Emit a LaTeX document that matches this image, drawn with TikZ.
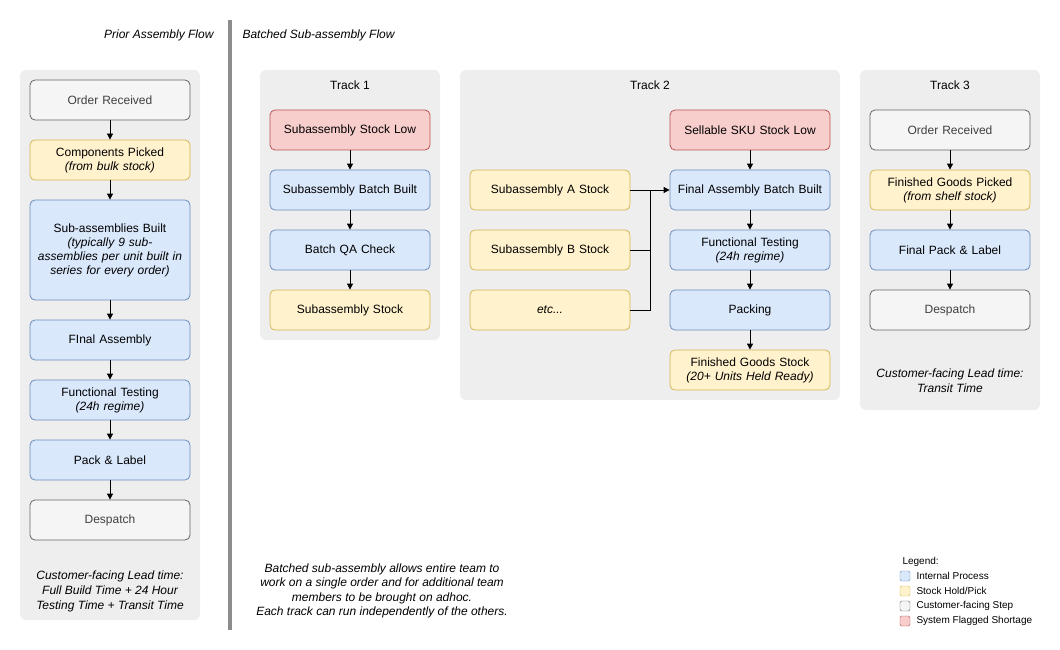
\documentclass[tikz,border=0pt]{standalone}
\usepackage{fontspec}
\setmainfont{Liberation Sans}
\usetikzlibrary{arrows.meta}
\definecolor{bF}{HTML}{DAE8FC}\definecolor{bS}{HTML}{6C8EBF}
\definecolor{yF}{HTML}{FFF2CC}\definecolor{yS}{HTML}{D6B656}
\definecolor{rF}{HTML}{F8CECC}\definecolor{rS}{HTML}{B85450}
\definecolor{gF}{HTML}{F5F5F5}\definecolor{gS}{HTML}{666666}
\definecolor{pan}{HTML}{EEEEEE}
\begin{document}
\begin{tikzpicture}[x=1pt,y=-1pt,
 every node/.style={font=\fontsize{12}{14}\selectfont},
 box/.style={draw,line width=0.8pt,rounded corners=5pt,minimum width=160pt,minimum height=40pt,align=center,text width=155pt,inner sep=0pt},
 blue/.style={box,fill=bF,draw=bS},
 yel/.style={box,fill=yF,draw=yS},
 red/.style={box,fill=rF,draw=rS},
 gry/.style={box,fill=gF,draw=gS,text=black!75},
 panel/.style={fill=pan,rounded corners=6pt,draw=none},
 arr/.style={-{Triangle[length=6pt,width=6pt]},line width=0.8pt},
 lg/.style={draw,rounded corners=1.5pt,minimum size=10pt,inner sep=0pt},
 lt/.style={anchor=west,font=\fontsize{10}{12}\selectfont}]
\useasboundingbox (0,0) rectangle (1060,650);
% panels
\fill[panel] (20,70) rectangle (200,620);
\fill[panel] (260,70) rectangle (440,340);
\fill[panel] (460,70) rectangle (840,400);
\fill[panel] (860,70) rectangle (1040,410);
\draw[line width=4pt,gray!90] (230,20) -- (230,630);
\node[anchor=east,font=\fontsize{12}{14}\selectfont\itshape] (t0) at (217,35) {Prior Assembly Flow};
\node[anchor=west,font=\fontsize{12}{14}\selectfont\itshape] (t1) at (239,35) {Batched Sub-assembly Flow};
% left
\node[gry] (l1) at (110,100) {Order Received};
\node[yel] (l2) at (110,160) {Components Picked\\\textit{(from bulk stock)}};
\node[blue,minimum height=100pt] (l3) at (110,250) {Sub-assemblies Built\\\textit{(typically 9 sub-}\\\textit{assemblies per unit built in}\\\textit{series for every order)}};
\node[blue] (l4) at (110,340) {FInal Assembly};
\node[blue] (l5) at (110,400) {Functional Testing\\\textit{(24h regime)}};
\node[blue] (l6) at (110,460) {Pack \& Label};
\node[gry] (l7) at (110,520) {Despatch};
\foreach \a/\b in {l1/l2,l2/l3,l3/l4,l4/l5,l5/l6,l6/l7} \draw[arr] (\a) -- (\b);
\node[align=center,font=\fontsize{12}{15}\selectfont\itshape] (lt) at (110,591) {Customer-facing Lead time:\\Full Build Time + 24 Hour\\Testing Time + Transit Time};
% track1
\node (h1) at (350,85) {Track 1};
\node[red] (a1) at (350,130) {Subassembly Stock Low};
\node[blue] (a2) at (350,190) {Subassembly Batch Built};
\node[blue] (a3) at (350,250) {Batch QA Check};
\node[yel] (a4) at (350,310) {Subassembly Stock};
\foreach \a/\b in {a1/a2,a2/a3,a3/a4} \draw[arr] (\a) -- (\b);
% track2
\node (h2) at (650,85) {Track 2};
\node[yel] (s1) at (550,190) {Subassembly A Stock};
\node[yel] (s2) at (550,250) {Subassembly B Stock};
\node[yel,font=\fontsize{12}{14}\selectfont\itshape] (s3) at (550,310) {etc...};
\node[red] (b1) at (750,130) {Sellable SKU Stock Low};
\node[blue] (b2) at (750,190) {Final Assembly Batch Built};
\node[blue] (b3) at (750,250) {Functional Testing\\\textit{(24h regime)}};
\node[blue] (b4) at (750,310) {Packing};
\node[yel] (b5) at (750,370) {Finished Goods Stock\\\textit{(20+ Units Held Ready)}};
\foreach \a/\b in {b1/b2,b2/b3,b3/b4,b4/b5} \draw[arr] (\a) -- (\b);
\coordinate (j) at (650,190);
\draw[arr] (s1) -- (b2);
\draw[line width=0.8pt] (s2.east) -| (j);
\draw[line width=0.8pt] (s3.east) -| (j);
% track3
\node (h3) at (950,85) {Track 3};
\node[gry] (c1) at (950,130) {Order Received};
\node[yel] (c2) at (950,190) {Finished Goods Picked\\\textit{(from shelf stock)}};
\node[blue] (c3) at (950,250) {Final Pack \& Label};
\node[gry] (c4) at (950,310) {Despatch};
\foreach \a/\b in {c1/c2,c2/c3,c3/c4} \draw[arr] (\a) -- (\b);
\node[align=center,font=\fontsize{12}{15}\selectfont\itshape] (ct) at (950,381) {Customer-facing Lead time:\\Transit Time};
% bottom note
\node[align=center,font=\fontsize{12}{14.5}\selectfont\itshape] (note) at (382,591) {Batched sub-assembly allows entire team to\\work on a single order and for additional team\\members to be brought on adhoc.\\Each track can run independently of the others.};
% legend
\node[lt] (lgt) at (899,562) {Legend:};
\node[lg,fill=bF,draw=bS] (g1) at (905,576) {}; \node[lt] (g1t) at (913,576) {Internal Process};
\node[lg,fill=yF,draw=yS] (g2) at (905,591) {}; \node[lt] (g2t) at (913,591) {Stock Hold/Pick};
\node[lg,fill=gF,draw=gS] (g3) at (905,606) {}; \node[lt] (g3t) at (913,606) {Customer-facing Step};
\node[lg,fill=rF,draw=rS] (g4) at (905,621) {}; \node[lt] (g4t) at (913,621) {System Flagged Shortage};
\end{tikzpicture}
\end{document}
